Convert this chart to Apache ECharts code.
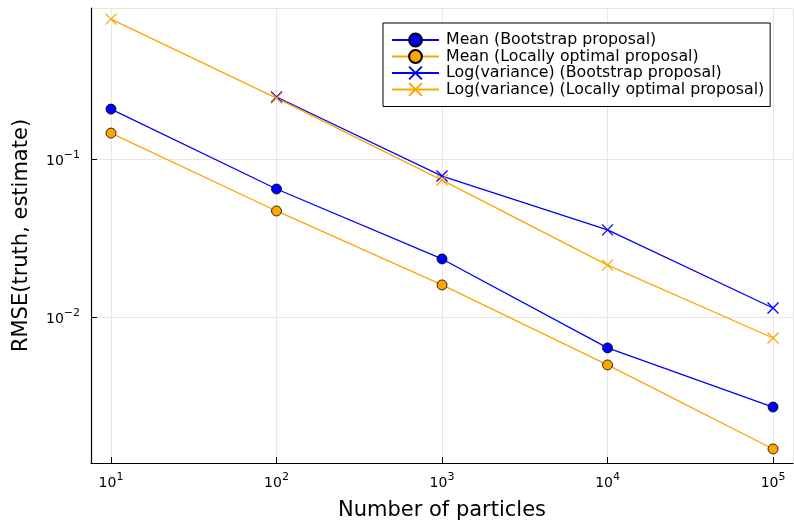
<!DOCTYPE html>
<html><head><meta charset="utf-8">
<script src="https://cdn.jsdelivr.net/npm/echarts@6/dist/echarts.min.js"></script>
<style>html,body{margin:0;padding:0;background:#fff}#c{width:794px;height:523px}</style>
</head><body><div id="c"></div>
<script>
const particles = [10, 100, 1000, 10000, 100000];
const meanBootstrap = [0.207, 0.0646, 0.0233, 0.00637, 0.00269];
const meanLocOpt = [0.146, 0.0469, 0.01595, 0.00497, 0.00146];
const logvarBootstrap = [null, 0.247, 0.078, 0.0356, 0.0114];
const logvarLocOpt = [0.769, 0.243, 0.0736, 0.0213, 0.00736];
const seriesNames = ['Mean (Bootstrap proposal)', 'Mean (Locally optimal proposal)', 'Log(variance) (Bootstrap proposal)', 'Log(variance) (Locally optimal proposal)'];

const FONT = 'DejaVu Sans';
const xPath = 'path://M0,0L10,10M10,0L0,10';
function pairs(ys){ return particles.map((x,i)=> ys[i]==null ? null : [x, ys[i]]).filter(p=>p); }
const supFmt = (v) => {
  const e = Math.round(Math.log10(v));
  return '{b|10}{s|' + (e < 0 ? '\u2212' + (-e) : e) + '}';
};
const rich = {
  b: {fontFamily: FONT, fontSize: 14, color: '#000', verticalAlign: 'bottom', lineHeight: 18},
  s: {fontFamily: FONT, fontSize: 11, color: '#000', verticalAlign: 'top', lineHeight: 18, padding: [0,0,7,0]}
};
function mk(name, ys, color, sym) {
  const isX = sym === 'x';
  return {
    name, type: 'line', data: pairs(ys),
    symbol: isX ? xPath : 'circle',
    symbolSize: isX ? 11 : 10,
    showAllSymbol: true,
    lineStyle: {color, width: 1.3},
    itemStyle: isX ? {color, borderColor: color, borderWidth: 1.3} : {color, borderColor: '#000', borderWidth: 0.8},
    emphasis: {disabled: true},
    animation: false
  };
}
const chart = echarts.init(document.getElementById('c'));
chart.setOption({
  backgroundColor: '#fff',
  animation: false,
  grid: {left: 91, right: 1, top: 8, bottom: 60, containLabel: false, outerBoundsMode: 'none'},
  legend: {
    orient: 'vertical', left: 383, top: 23,
    padding: [9, 6, 9, 8],
    borderColor: '#000', borderWidth: 1, backgroundColor: '#fff',
    itemWidth: 47, itemHeight: 16, itemGap: 0.5,
    textStyle: {fontFamily: FONT, fontSize: 15.8, color: '#000', padding: [0,0,0,2]},
    data: seriesNames
  },
  xAxis: {
    type: 'log', logBase: 10,
    min: 7.57, max: 132000,
    name: 'Number of particles', nameLocation: 'middle', nameGap: 37,
    nameTextStyle: {fontFamily: FONT, fontSize: 21, color: '#000'},
    axisLine: {lineStyle: {color: '#000', width: 1.2}},
    axisTick: {inside: true, length: 6, lineStyle: {color: '#000'}},
    axisLabel: {formatter: supFmt, rich, margin: 9, showMinLabel: false, showMaxLabel: false},
    splitLine: {show: true, lineStyle: {color: '#e6e6e6', width: 1}},
    minorTick: {show: false}
  },
  yAxis: {
    type: 'log', logBase: 10,
    min: 0.00119, max: 0.904,
    name: 'RMSE(truth, estimate)', nameLocation: 'middle', nameGap: 59,
    nameTextStyle: {fontFamily: FONT, fontSize: 21, color: '#000'},
    axisLine: {show: true, lineStyle: {color: '#000', width: 1.2}},
    axisTick: {show: true, inside: true, length: 6, lineStyle: {color: '#000'}},
    axisLabel: {formatter: supFmt, rich, margin: 11, showMinLabel: false, showMaxLabel: false},
    splitLine: {show: true, lineStyle: {color: '#e6e6e6', width: 1}}
  },
  series: [
    mk(seriesNames[0], meanBootstrap, '#0000ff', 'circle'),
    mk(seriesNames[1], meanLocOpt, '#ffa500', 'circle'),
    mk(seriesNames[2], logvarBootstrap, '#0000ff', 'x'),
    mk(seriesNames[3], logvarLocOpt, '#ffa500', 'x')
  ]
});
</script></body></html>
